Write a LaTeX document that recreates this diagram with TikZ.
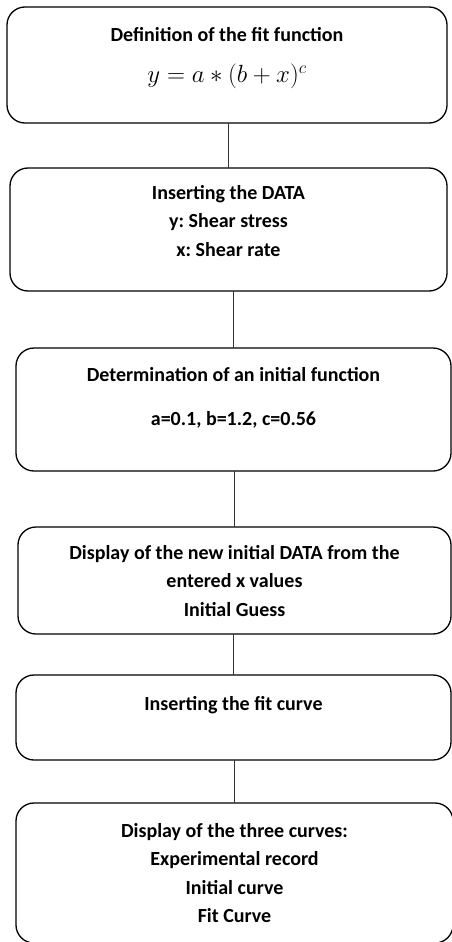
\documentclass[tikz,border=0pt]{standalone}
\usepackage{fontspec}
\setmainfont{Carlito}
\frenchspacing
\usetikzlibrary{positioning}

\begin{document}
\begin{tikzpicture}
[x=1pt,y=1pt,
 stepbox/.style={draw=black,line width=1.3pt,rounded corners=18pt,inner sep=0pt,outer sep=0pt},
 txt/.style={inner sep=0pt,outer sep=0pt,align=center,font=\fontsize{20}{28.5}\selectfont\bfseries},
 link/.style={draw=black!80,line width=1.1pt}]
\useasboundingbox (0,0) rectangle (451,-942);

\node[stepbox,minimum width=440pt,minimum height=116pt] (b1) at (227,-65) {};
\node[stepbox,minimum width=437pt,minimum height=123pt] (b2) [on grid,below right=164.5pt and 1.5pt of b1] {};
\node[stepbox,minimum width=435pt,minimum height=123pt] (b3) [on grid,below right=180pt and 5pt of b2] {};
\node[stepbox,minimum width=433pt,minimum height=107pt] (b4) [on grid,below right=171pt and 1pt of b3] {};
\node[stepbox,minimum width=435pt,minimum height=85pt]  (b5) [on grid,below left=137pt and 1pt of b4] {};
\node[stepbox,minimum width=437pt,minimum height=140pt] (b6) [on grid,below right=155.5pt and 1pt of b5] {};

\node[txt] (t1) [below=20pt of b1.north] {Definition of the fit function\\[13pt] {\fontsize{24}{24}\selectfont$y = a*(b+x)^{c}$}};
\node[txt] (t2) [below=17pt of b2.north] {Inserting the DATA\\ y: Shear stress\\ x: Shear rate};
\node[txt] (t3) [below=19pt of b3.north] {Determination of an initial function\\[16pt] a=0.1, b=1.2, c=0.56};
\node[txt] (t4) [below=18pt of b4.north] {Display of the new initial DATA from the\\ entered x values\\ Initial Guess};
\node[txt] (t5) [below=21pt of b5.north] {Inserting the fit curve};
\node[txt] (t6) [below=20pt of b6.north] {Display of the three curves:\\ Experimental record\\ Initial curve\\ Fit Curve};

\path[link] (b1.south -| b2.north) -- (b2.north);
\path[link] (b2.south -| b3.north) -- (b3.north);
\path[link] (b3.south -| b4.north) -- (b4.north);
\path[link] (b4.south -| b5.north) -- (b5.north);
\path[link] (b5.south -| b6.north) -- (b6.north);
\end{tikzpicture}
\end{document}
